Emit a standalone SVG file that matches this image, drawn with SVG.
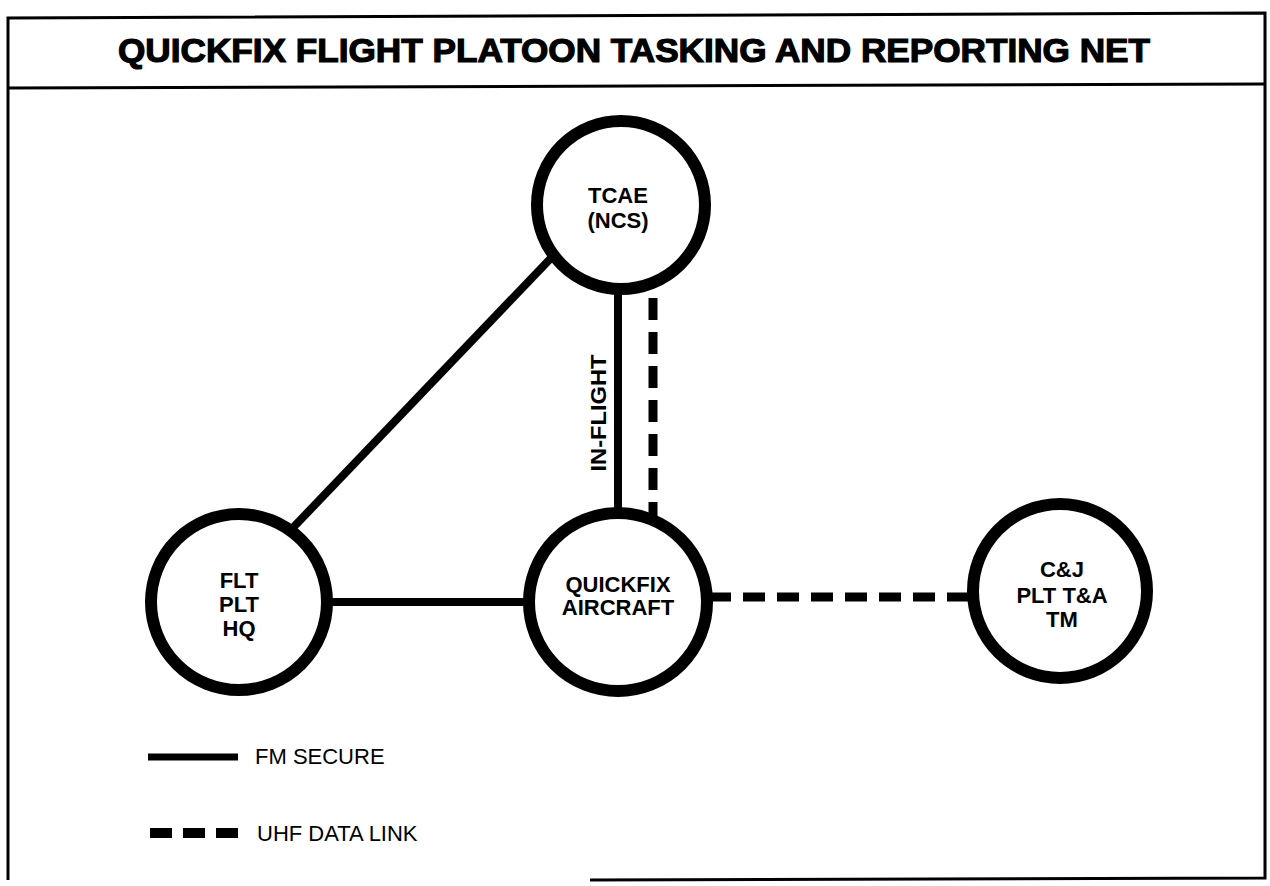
<svg xmlns="http://www.w3.org/2000/svg" width="1270" height="886" viewBox="0 0 1270 886">
<style>
.node circle{fill:#fff;stroke:#000;stroke-width:12}
.lbl{font-family:"Liberation Sans",Arial,sans-serif;font-weight:bold;font-size:22px;fill:#000;text-anchor:middle}
.solid{stroke:#000;stroke-width:8;fill:none}
.dash{stroke:#000;stroke-width:9;fill:none;stroke-dasharray:22 12}
.leg{font-family:"Liberation Sans",Arial,sans-serif;font-size:22px;fill:#000}
</style>
<rect width="1270" height="886" fill="#fff"/>
<g id="frame" fill="none" stroke="#000" stroke-width="3">
<path d="M8,880 L8,18 L1265,13 L1265,878 L590,880"/>
<path d="M8,88 L1265,84"/>
</g>
<text id="title" x="634" y="62" font-family="'Liberation Sans',Arial,sans-serif" font-weight="bold" font-size="34" text-anchor="middle" stroke="#000" stroke-width="1.2" textLength="1032" lengthAdjust="spacingAndGlyphs">QUICKFIX FLIGHT PLATOON TASKING AND REPORTING NET</text>
<g id="connectors">
<line class="solid" x1="552" y1="257" x2="286" y2="535" stroke-width="6"/>
<line class="solid" x1="618" y1="285" x2="618" y2="515"/>
<line class="dash" x1="653" y1="298" x2="653" y2="520" stroke-dasharray="22 11" stroke-width="8"/>
<line class="solid" x1="320" y1="602" x2="535" y2="602"/>
<line class="dash" x1="709" y1="597" x2="972" y2="597"/>
<text class="lbl" transform="translate(606,413) rotate(-90)" x="0" y="0" textLength="117" lengthAdjust="spacingAndGlyphs">IN-FLIGHT</text>
</g>
<g id="tcae" class="node">
<circle cx="621" cy="205" r="84"/>
<text class="lbl" x="618" y="203" font-size="21">TCAE</text>
<text class="lbl" x="618" y="228" font-size="21">(NCS)</text>
</g>
<g id="flt" class="node">
<circle cx="239" cy="602" r="88"/>
<text class="lbl" x="239" y="588">FLT</text>
<text class="lbl" x="239" y="612">PLT</text>
<text class="lbl" x="239" y="636">HQ</text>
</g>
<g id="quickfix" class="node">
<circle cx="618" cy="602" r="89"/>
<text class="lbl" x="618" y="592">QUICKFIX</text>
<text class="lbl" x="618" y="615">AIRCRAFT</text>
</g>
<g id="cj" class="node">
<circle cx="1060" cy="591" r="87"/>
<text class="lbl" x="1062" y="577">C&amp;J</text>
<text class="lbl" x="1062" y="603">PLT T&amp;A</text>
<text class="lbl" x="1062" y="627">TM</text>
</g>
<g id="legend">
<line x1="148" y1="757" x2="238" y2="757" stroke="#000" stroke-width="7"/>
<text class="leg" x="255" y="764">FM SECURE</text>
<line x1="150" y1="833" x2="238" y2="833" stroke="#000" stroke-width="10" stroke-dasharray="22 11"/>
<text class="leg" x="257" y="841">UHF DATA LINK</text>
</g>
</svg>
